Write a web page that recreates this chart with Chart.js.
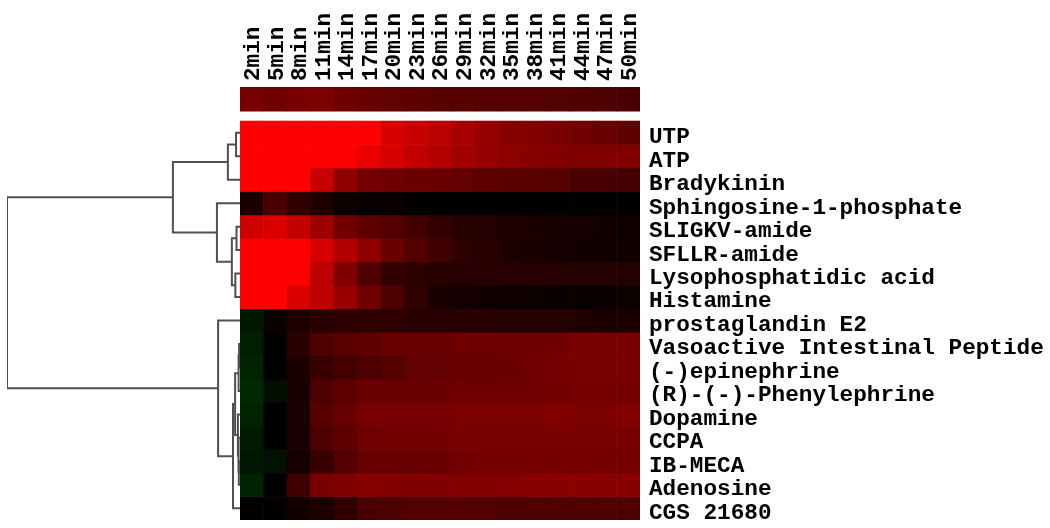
<!DOCTYPE html>
<html>
<head>
<meta charset="utf-8">
<script src="https://cdn.jsdelivr.net/npm/chart.js@4.4.1/dist/chart.umd.min.js"></script>
<style>
  body { margin: 0; background: #fff; }
  #wrap { position: relative; width: 1050px; height: 528px; }
  #wrap canvas { position: absolute; top: 0; left: 0; }
</style>
</head>
<body>
<div id="wrap">
  <canvas id="heat" width="1050" height="528"></canvas>
  <canvas id="tree" width="240" height="528"></canvas>
</div>
<script>
var times = ["2min", "5min", "8min", "11min", "14min", "17min", "20min", "23min", "26min",
  "29min", "32min", "35min", "38min", "41min", "44min", "47min", "50min"];

var compounds = ["UTP", "ATP", "Bradykinin", "Sphingosine-1-phosphate", "SLIGKV-amide",
  "SFLLR-amide", "Lysophosphatidic acid", "Histamine", "prostaglandin E2",
  "Vasoactive Intestinal Peptide", "(-)epinephrine", "(R)-(-)-Phenylephrine",
  "Dopamine", "CCPA", "IB-MECA", "Adenosine", "CGS 21680"];

// average response per time point (top strip)
var meanRow = [0.47, 0.43, 0.47, 0.49, 0.43, 0.41, 0.39, 0.37, 0.35, 0.35, 0.33, 0.33, 0.33, 0.32, 0.31, 0.31, 0.29];

// one row per compound, one value per time point (>0 red, <0 green)
var cells = [
  [1, 1, 1, 1, 1, 1, 0.85, 0.79, 0.73, 0.65, 0.58, 0.53, 0.51, 0.48, 0.44, 0.41, 0.38],
  [1, 1, 1, 1, 1, 0.92, 0.84, 0.76, 0.71, 0.63, 0.59, 0.55, 0.53, 0.51, 0.5, 0.5, 0.5],
  [1, 1, 1, 0.78, 0.56, 0.46, 0.44, 0.42, 0.41, 0.39, 0.37, 0.35, 0.35, 0.34, 0.29, 0.29, 0.28],
  [0.11, 0.29, 0.18, 0.12, 0.05, 0.03, 0.03, 0.01, 0.01, 0.01, 0.01, 0.01, 0.01, 0.01, 0.01, 0.01, 0.01],
  [0.8, 0.86, 0.76, 0.61, 0.45, 0.37, 0.33, 0.26, 0.2, 0.16, 0.14, 0.12, 0.11, 0.09, 0.08, 0.07, 0.06],
  [1, 1, 1, 0.84, 0.69, 0.56, 0.42, 0.33, 0.25, 0.18, 0.16, 0.12, 0.1, 0.08, 0.07, 0.07, 0.07],
  [1, 1, 1, 0.73, 0.5, 0.31, 0.2, 0.18, 0.16, 0.15, 0.16, 0.16, 0.15, 0.15, 0.14, 0.14, 0.14],
  [1, 1, 0.86, 0.75, 0.59, 0.43, 0.3, 0.2, 0.1, 0.08, 0.07, 0.06, 0.05, 0.04, 0.04, 0.04, 0.05],
  [-0.1, 0.04, 0.12, 0.16, 0.18, 0.18, 0.18, 0.16, 0.16, 0.17, 0.16, 0.14, 0.14, 0.14, 0.13, 0.11, 0.11],
  [-0.12, 0, 0.17, 0.3, 0.35, 0.37, 0.41, 0.41, 0.41, 0.43, 0.43, 0.43, 0.43, 0.44, 0.47, 0.47, 0.47],
  [-0.14, 0, 0.11, 0.22, 0.27, 0.3, 0.34, 0.39, 0.39, 0.41, 0.41, 0.42, 0.43, 0.46, 0.47, 0.47, 0.47],
  [-0.16, -0.06, 0.1, 0.3, 0.37, 0.41, 0.41, 0.41, 0.42, 0.43, 0.43, 0.43, 0.44, 0.45, 0.46, 0.46, 0.46],
  [-0.14, 0, 0.1, 0.34, 0.4, 0.47, 0.47, 0.47, 0.47, 0.49, 0.49, 0.49, 0.49, 0.5, 0.49, 0.49, 0.51],
  [-0.11, 0, 0.1, 0.3, 0.37, 0.43, 0.45, 0.45, 0.45, 0.47, 0.47, 0.47, 0.47, 0.47, 0.47, 0.47, 0.47],
  [-0.09, -0.07, 0.08, 0.22, 0.32, 0.41, 0.41, 0.41, 0.42, 0.45, 0.46, 0.46, 0.46, 0.46, 0.46, 0.46, 0.46],
  [-0.14, 0, 0.25, 0.47, 0.5, 0.53, 0.51, 0.5, 0.5, 0.51, 0.51, 0.52, 0.54, 0.54, 0.54, 0.54, 0.54],
  [0.02, 0.02, 0.07, 0.11, 0.19, 0.29, 0.31, 0.32, 0.33, 0.33, 0.32, 0.31, 0.31, 0.31, 0.31, 0.31, 0.31]
];

// clustering: [left, right, height]; leaves are 0..16, new nodes get 17, 18, ...
var merges = [
  [0, 1, 0.017],
  [17, 2, 0.052],
  [4, 5, 0.015],
  [6, 7, 0.02],
  [19, 20, 0.035],
  [3, 21, 0.099],
  [18, 22, 0.288],
  [9, 10, 0.004],
  [24, 11, 0.006],
  [14, 15, 0.005],
  [13, 26, 0.007],
  [12, 27, 0.009],
  [25, 28, 0.021],
  [29, 16, 0.03],
  [8, 30, 0.094],
  [23, 31, 1.0]
];

var yMin = -1.45, yMax = 17;

function heatColor(v) {
  var c = Math.round(Math.min(Math.abs(v), 1) * 255);
  return v >= 0 ? 'rgb(' + c + ',0,0)' : 'rgb(0,' + c + ',0)';
}

Chart.defaults.font.family = "'Liberation Mono', 'DejaVu Sans Mono', monospace";
Chart.defaults.font.weight = 'bold';
Chart.defaults.color = '#000';

var heatSets = [{
  data: times.map(function() { return [yMin, -0.42]; }),
  backgroundColor: meanRow.map(heatColor)
}];
compounds.forEach(function(name, i) {
  heatSets.push({
    label: name,
    data: times.map(function() { return [i, i + 1]; }),
    backgroundColor: cells[i].map(heatColor)
  });
});

new Chart(document.getElementById('heat'), {
  type: 'bar',
  data: { labels: times, datasets: heatSets },
  options: {
    responsive: false,
    animation: false,
    layout: { padding: { left: 240, right: 0, top: 0, bottom: 8 } },
    datasets: { bar: { grouped: false, barPercentage: 1, categoryPercentage: 1, borderWidth: 0 } },
    plugins: { legend: { display: false }, tooltip: { enabled: false } },
    scales: {
      x: {
        position: 'top',
        grid: { display: false, drawTicks: false },
        border: { display: false },
        ticks: { autoSkip: false, minRotation: 90, maxRotation: 90, padding: 6, labelOffset: 29, font: { size: 22.7 } },
        afterFit: function(scale) {
          scale.height = 87;
          scale.paddingLeft = 0;
          scale.paddingRight = 0;
        }
      },
      y: {
        type: 'linear',
        position: 'right',
        reverse: true,
        min: yMin,
        max: yMax,
        grid: { display: false, drawTicks: false },
        border: { display: false },
        afterBuildTicks: function(scale) {
          // labels sit slightly below the row middle, as in the source figure
          scale.ticks = compounds.map(function(c, i) { return { value: i + 0.7 }; });
        },
        ticks: {
          autoSkip: false,
          padding: 9,
          font: { size: 22.7 },
          callback: function(value, index) { return compounds[index]; }
        },
        afterFit: function(scale) {
          scale.width = 410;
          scale.paddingTop = 0;
          scale.paddingBottom = 0;
        }
      }
    }
  }
});

// dendrogram
var nodeY = compounds.map(function(c, i) { return i + 0.5; });
var nodeH = compounds.map(function() { return 0; });
var treeSets = merges.map(function(m) {
  var a = m[0], b = m[1], h = m[2];
  nodeY.push((nodeY[a] + nodeY[b]) / 2);
  nodeH.push(h);
  return {
    data: [
      { x: nodeH[a], y: nodeY[a] },
      { x: h, y: nodeY[a] },
      { x: h, y: nodeY[b] },
      { x: nodeH[b], y: nodeY[b] }
    ],
    borderColor: '#505050',
    borderWidth: 2,
    pointRadius: 0,
    tension: 0
  };
});

new Chart(document.getElementById('tree'), {
  type: 'line',
  data: { datasets: treeSets },
  options: {
    responsive: false,
    animation: false,
    layout: { padding: { left: 7, right: 0, top: 87, bottom: 8 } },
    plugins: { legend: { display: false }, tooltip: { enabled: false } },
    scales: {
      x: { type: 'linear', min: 0, max: 1, reverse: true, display: false },
      y: { type: 'linear', min: yMin, max: yMax, reverse: true, display: false }
    }
  }
});
</script>
</body>
</html>
